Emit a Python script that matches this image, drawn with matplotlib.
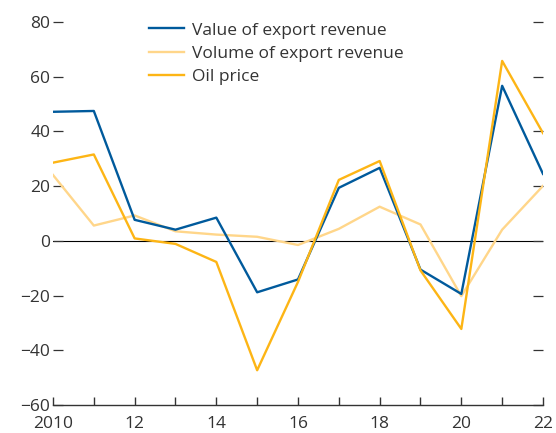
import matplotlib
matplotlib.use("Agg")
import matplotlib.pyplot as plt

plt.rcParams["font.family"] = ["Open Sans", "DejaVu Sans"]

years = list(range(2010, 2023))
value_rev = [47.2, 47.5, 7.7, 4.1, 8.5, -18.8, -14.1, 19.4, 26.7, -10.5, -19.4, 56.7, 24.5]
volume_rev = [24.1, 5.6, 9.3, 3.5, 2.3, 1.5, -1.5, 4.4, 12.5, 6.0, -20.2, 4.1, 20.1]
oil_price = [28.6, 31.6, 0.9, -1.1, -7.7, -47.3, -15.0, 22.3, 29.2, -10.8, -32.2, 65.8, 39.4]

x_labels = ["2010", "", "12", "", "14", "", "16", "", "18", "", "20", "", "22"]
y_ticks = [-60, -40, -20, 0, 20, 40, 60, 80]

C_BLUE = "#005A9C"
C_LIGHT = "#FFD68A"
C_ORANGE = "#FDB515"
C_TEXT = "#333333"

fig = plt.figure(figsize=(5.56, 4.33), dpi=100)
ax = fig.add_axes([0.0953, 0.0647, 0.8813, 0.8843])

ax.axhline(0, color="black", lw=0.8, zorder=1)
ax.plot(years, value_rev, color=C_BLUE, lw=1.7, label="Value of export revenue", zorder=3)
ax.plot(years, volume_rev, color=C_LIGHT, lw=1.7, label="Volume of export revenue", zorder=2)
ax.plot(years, oil_price, color=C_ORANGE, lw=1.7, label="Oil price", zorder=3)

ax.set_xlim(2010, 2022)
ax.set_ylim(-60, 80)
ax.set_xticks(years)
ax.set_xticklabels(x_labels)
ax.set_yticks(y_ticks)
ax.set_yticklabels([str(v).replace("-", "\u2212") for v in y_ticks])

for s in ["top", "left", "right"]:
    ax.spines[s].set_visible(False)
ax.spines["bottom"].set_color(C_TEXT)
ax.spines["bottom"].set_linewidth(1.0)

ax.tick_params(axis="x", direction="in", length=6, width=1.0, colors=C_TEXT,
               labelsize=12.5, pad=8, labelcolor=C_TEXT)
ax.tick_params(axis="y", direction="in", length=7, width=0.9, colors=C_TEXT,
               labelsize=12.5, pad=2, right=True, labelcolor=C_TEXT)

leg = ax.legend(loc="upper left", bbox_to_anchor=(0.165, 1.04), frameon=False,
                fontsize=12.5, handlelength=2.0, handletextpad=0.45, labelspacing=0.42)
for t in leg.get_texts():
    t.set_color(C_TEXT)

fig.savefig("out.png", dpi=100)
